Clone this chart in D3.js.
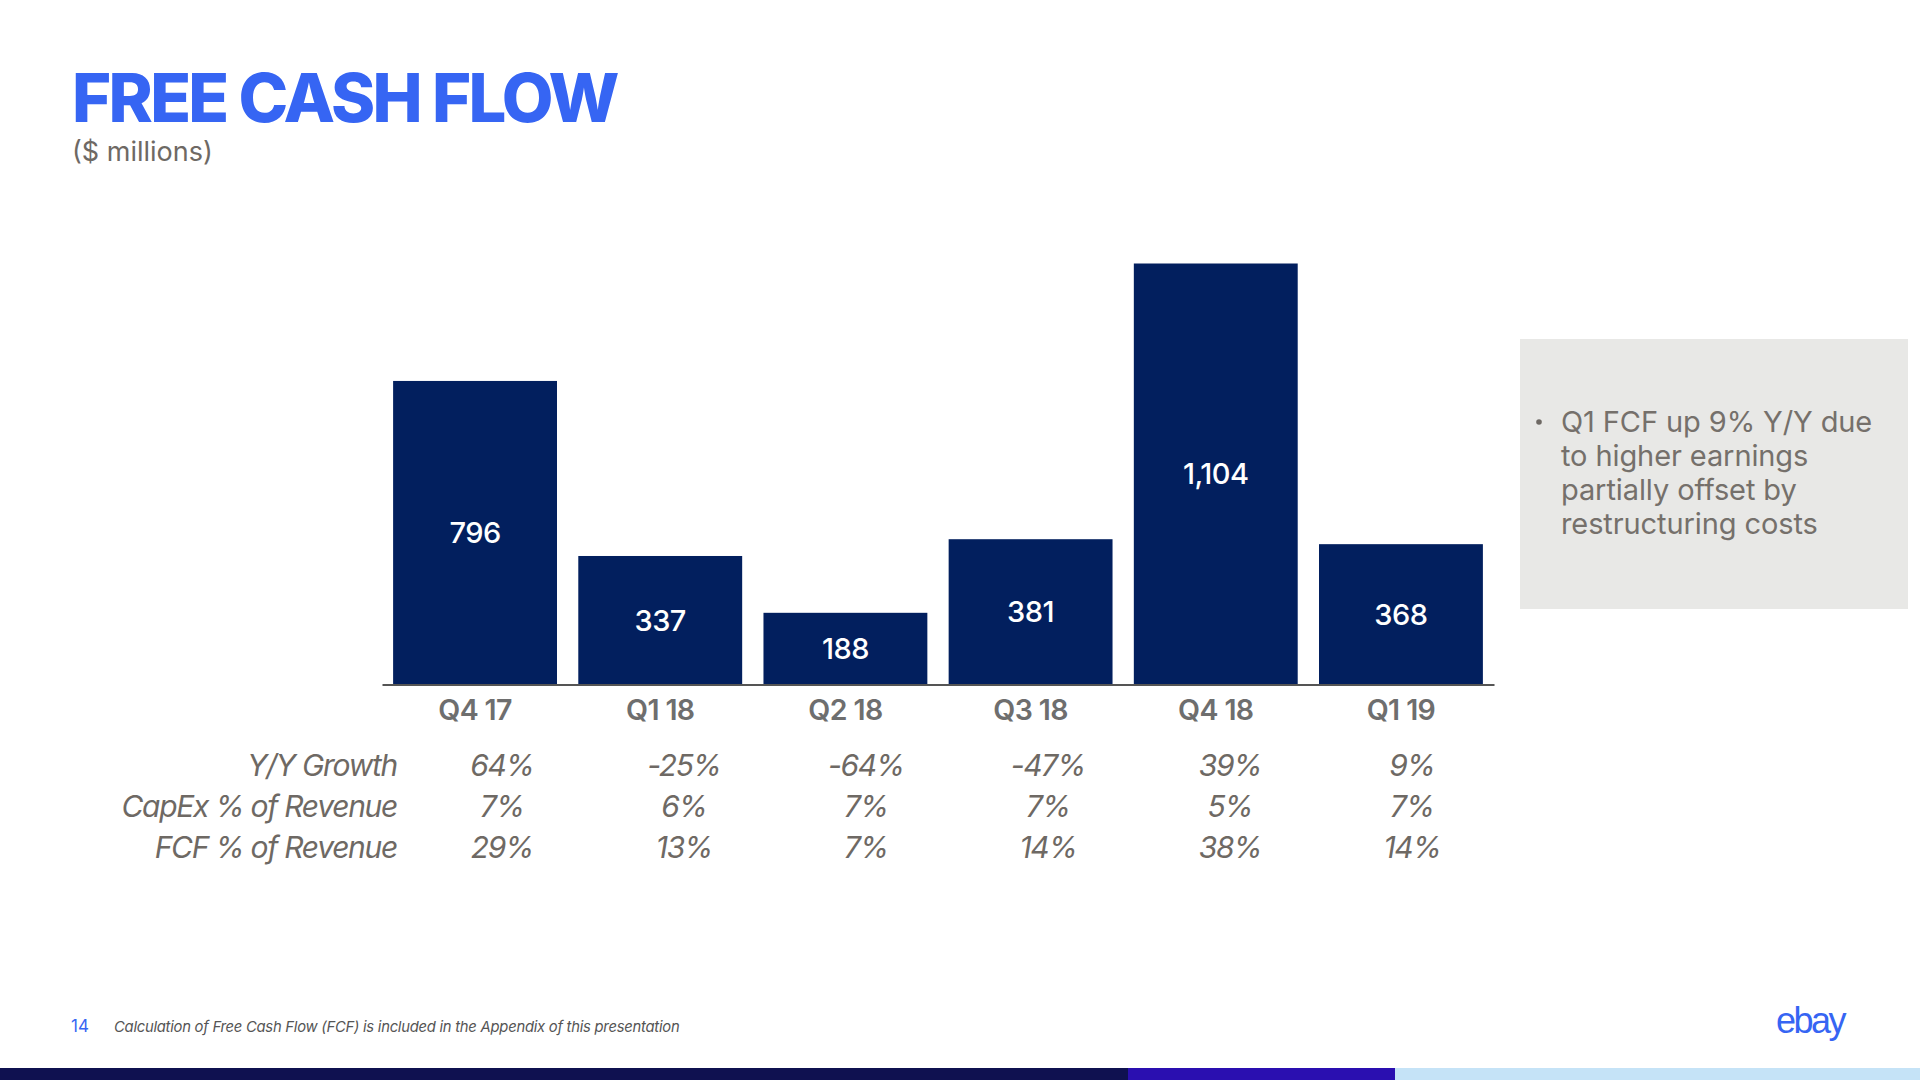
<!DOCTYPE html>
<html>
<head>
<meta charset="utf-8">
<script src="https://cdnjs.cloudflare.com/ajax/libs/d3/7.8.5/d3.min.js"></script>
<style>
  html, body { margin: 0; padding: 0; background: #fff; }
  svg { display: block; }
</style>
</head>
<body>
<svg id="chart" width="1920" height="1080"></svg>
<script>
// ---- data ----
const categories = ["Q4 17", "Q1 18", "Q2 18", "Q3 18", "Q4 18", "Q1 19"];
const fcfValues = [796, 337, 188, 381, 1104, 368];
const rowLabels = ["Y/Y Growth", "CapEx % of Revenue", "FCF % of Revenue"];
const yoyGrowth = ["64%", "-25%", "-64%", "-47%", "39%", "9%"];
const capexPct = ["7%", "6%", "7%", "7%", "5%", "7%"];
const fcfPct = ["29%", "13%", "7%", "14%", "38%", "14%"];
const bulletLines = ["Q1 FCF up 9% Y/Y due", "to higher earnings", "partially offset by", "restructuring costs"];
const footnote = "Calculation of Free Cash Flow (FCF) is included in the Appendix of this presentation";

// ---- styles ----
const FONT = "Inter, 'Open Sans', sans-serif";
const BLUE = "#3665F3";
const NAVY = "#021F5E";
const GRAY = "#6E6964";

const svg = d3.select("#chart");

// title
svg.append("text").attr("x", 72).attr("y", 122)
  .attr("font-family", FONT).attr("font-weight", 800).attr("font-size", 67)
  .attr("letter-spacing", -2.7).attr("fill", BLUE).text("FREE CASH FLOW");
svg.append("text").attr("x", 72).attr("y", 161)
  .attr("font-family", FONT).attr("font-size", 27).attr("fill", GRAY).text("($ millions)");

// scales
const x = d3.scaleBand().domain(categories).range([382, 1494]).paddingInner(0.115).paddingOuter(0.06);
const y = d3.scaleLinear().domain([0, 1104]).range([684.5, 263.5]);

// bars
svg.append("g").selectAll("rect").data(categories).join("rect")
  .attr("x", d => x(d)).attr("width", x.bandwidth())
  .attr("y", (d, i) => y(fcfValues[i]))
  .attr("height", (d, i) => y(0) - y(fcfValues[i]))
  .attr("fill", NAVY);

// bar labels
const fmt = d3.format(",");
svg.append("g").selectAll("text").data(categories).join("text")
  .attr("x", d => x(d) + x.bandwidth() / 2)
  .attr("y", (d, i) => (y(fcfValues[i]) + y(0)) / 2)
  .attr("dy", "0.36em")
  .attr("text-anchor", "middle")
  .attr("font-family", FONT).attr("font-weight", 500).attr("font-size", 29)
  .attr("letter-spacing", -0.5)
  .attr("fill", "#fff")
  .text((d, i) => fmt(fcfValues[i]));

// axis
const axis = svg.append("g").attr("transform", `translate(0,${y(0)})`)
  .call(d3.axisBottom(x).tickSize(0).tickPadding(15));
axis.select(".domain").attr("stroke", "#555").attr("stroke-width", 2);
axis.selectAll("text")
  .attr("font-family", FONT).attr("font-weight", 600).attr("font-size", 28.5)
  .attr("letter-spacing", -0.6)
  .attr("fill", "#6E6E6E");

// table
const cols = d3.scalePoint().domain(categories).range([502, 1412]);
const rows = [yoyGrowth, capexPct, fcfPct];
const rowY = d3.scalePoint().domain(rowLabels).range([765, 847]);
const table = svg.append("g")
  .attr("font-family", FONT).attr("font-style", "italic").attr("font-size", 30)
  .attr("letter-spacing", -1.3).attr("fill", GRAY);
table.selectAll("text.rowlabel").data(rowLabels).join("text")
  .attr("class", "rowlabel")
  .attr("x", 397).attr("y", d => rowY(d)).attr("dy", "0.36em")
  .attr("text-anchor", "end").text(d => d);
rows.forEach((vals, r) => {
  table.append("g").selectAll("text").data(categories).join("text")
    .attr("x", d => cols(d)).attr("y", rowY(rowLabels[r])).attr("dy", "0.36em")
    .attr("text-anchor", "middle").text((d, i) => vals[i]);
});

// side box
svg.append("rect").attr("x", 1520).attr("y", 339).attr("width", 388).attr("height", 270).attr("fill", "#E8E8E6");
svg.append("circle").attr("cx", 1539).attr("cy", 422).attr("r", 2.8).attr("fill", GRAY);
svg.append("g").selectAll("text").data(bulletLines).join("text")
  .attr("x", 1561).attr("y", (d, i) => 422 + i * 33.7).attr("dy", "0.36em")
  .attr("font-family", FONT).attr("font-size", 29).attr("letter-spacing", -0.1)
  .attr("fill", "#75706B").text(d => d);

// footer
svg.append("text").attr("x", 71).attr("y", 1032)
  .attr("font-family", FONT).attr("font-size", 17).attr("fill", BLUE).text("14");
svg.append("text").attr("x", 114).attr("y", 1032)
  .attr("font-family", FONT).attr("font-style", "italic").attr("font-size", 14.8)
  .attr("letter-spacing", -0.25).attr("fill", "#555").text(footnote);
svg.append("text").attr("x", 1776).attr("y", 1033)
  .attr("font-family", "'Liberation Sans', Arial, sans-serif").attr("font-size", 36)
  .attr("letter-spacing", -2.5).attr("fill", BLUE).text("ebay");

// bottom band
svg.append("rect").attr("x", 0).attr("y", 1068).attr("width", 1128).attr("height", 12).attr("fill", "#0F1150");
svg.append("rect").attr("x", 1128).attr("y", 1068).attr("width", 267).attr("height", 12).attr("fill", "#2A0FB0");
svg.append("rect").attr("x", 1395).attr("y", 1068).attr("width", 525).attr("height", 12).attr("fill", "#C5E3F7");
</script>
</body>
</html>
